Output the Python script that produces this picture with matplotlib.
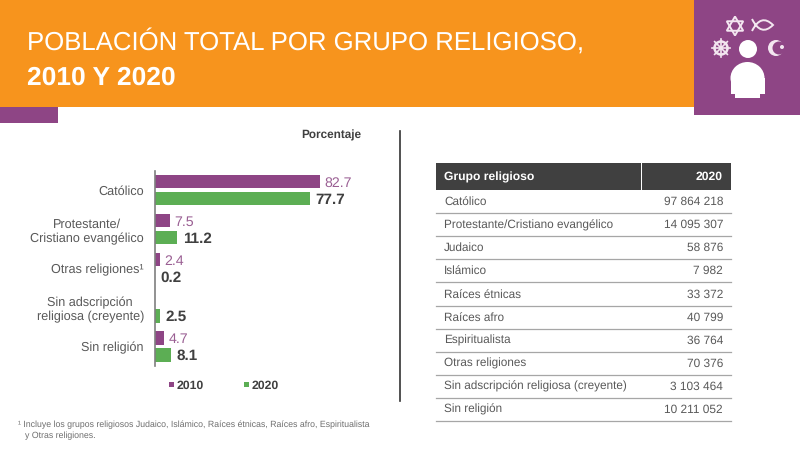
import numpy as np
import matplotlib
matplotlib.use('Agg')
import matplotlib.pyplot as plt
from matplotlib.patches import Rectangle, Circle, Polygon, Ellipse, PathPatch
from matplotlib.path import Path

plt.rcParams['font.family'] = ['Liberation Sans', 'DejaVu Sans']
plt.rcParams['text.hinting'] = 'no_hinting'

### --- data --- ###
categories = ['Católico', 'Protestante/\nCristiano evangélico', 'Otras religiones¹',
              'Sin adscripción\nreligiosa (creyente)', 'Sin religión']
vals_2010 = [82.7, 7.5, 2.4, None, 4.7]
vals_2020 = [77.7, 11.2, 0.2, 2.5, 8.1]

table_groups = ['Católico', 'Protestante/Cristiano evangélico', 'Judaico', 'Islámico',
                'Raíces étnicas', 'Raíces afro', 'Espiritualista', 'Otras religiones',
                'Sin adscripción religiosa (creyente)', 'Sin religión']
table_2020 = ['97 864 218', '14 095 307', '58 876', '7 982', '33 372',
              '40 799', '36 764', '70 376', '3 103 464', '10 211 052']

ORANGE = '#f7941d'
PURPLE = '#8e4585'
GREEN = '#5cae54'
DARK = '#404040'
GREY = '#595959'
W, H = 800, 451

fig = plt.figure(figsize=(8, 4.51), dpi=100, facecolor='white')

### --- page furniture, in pixel coords --- ###
bg = fig.add_axes([0, 0, 1, 1])
bg.set_xlim(0, W)
bg.set_ylim(H, 0)
bg.axis('off')

bg.add_patch(Rectangle((0, 0), 694, 107, fc=ORANGE, ec='none'))
bg.add_patch(Rectangle((0, 107), 58, 16, fc=PURPLE, ec='none'))
bg.add_patch(Rectangle((694, 0), 106, 115, fc=PURPLE, ec='none'))
bg.text(27, 50, 'POBLACIÓN TOTAL POR GRUPO RELIGIOSO,', color='white', fontsize=18.5, va='baseline')
bg.text(27, 85, '2010 Y 2020', color='white', fontsize=19, fontweight='bold', va='baseline')

# icon
ICON = '#f3e6f0'
bg.add_patch(Circle((748, 49), 9, fc='white', ec='none'))
bg.add_patch(Ellipse((747.5, 78), 34, 32, fc='white', ec='none'))
bg.add_patch(Rectangle((730.5, 78), 34, 16, fc='white', ec='none'))
bg.add_patch(Rectangle((735, 92), 25, 6, fc='white', ec='none'))
# star
for a0 in (90, -90):
    ang = np.radians([a0, a0 + 120, a0 + 240])
    bg.add_patch(Polygon(np.c_[735 + 9.5 * np.cos(ang), 26 - 9.5 * np.sin(ang)], fc='none', ec=ICON, lw=1.4))
# fish
fish = Path([(752, 31), (761, 13), (773, 25), (761, 37), (752, 19)],
            [Path.MOVETO, Path.CURVE3, Path.CURVE3, Path.CURVE3, Path.CURVE3])
bg.add_patch(PathPatch(fish, fc='none', ec=ICON, lw=1.4))
# wheel
bg.add_patch(Circle((721, 48), 6.5, fc='none', ec=ICON, lw=1.8))
bg.add_patch(Circle((721, 48), 2, fc=ICON, ec='none'))
for t in np.radians(np.arange(0, 360, 45)):
    bg.plot([721 + 2 * np.cos(t), 721 + 9 * np.cos(t)], [48 + 2 * np.sin(t), 48 + 9 * np.sin(t)], color=ICON, lw=1.2)
# crescent
bg.add_patch(Circle((776, 48), 8, fc=ICON, ec='none'))
bg.add_patch(Circle((779, 48), 6.5, fc=PURPLE, ec='none'))
bg.add_patch(Circle((782, 47), 2, fc=ICON, ec='none'))

bg.text(361, 135, 'Porcentaje', color=DARK, fontsize=8.5, fontweight='bold', ha='right', va='center')
bg.plot([400, 400], [131, 401], color='#333333', lw=1.2)

# legend
bg.add_patch(Rectangle((169, 382), 5, 5, fc=PURPLE, ec='none'))
bg.text(177, 384.5, '2010', color=DARK, fontsize=8.8, fontweight='bold', va='center_baseline')
bg.add_patch(Rectangle((244, 382), 5, 5, fc=GREEN, ec='none'))
bg.text(252, 384.5, '2020', color=DARK, fontsize=8.8, fontweight='bold', va='center_baseline')

# footnote
bg.text(18, 425, '¹ Incluye los grupos religiosos Judaico, Islámico, Raíces étnicas, Raíces afro, Espiritualista',
        color='#6e6e6e', fontsize=6.3, va='center')
bg.text(25, 436, 'y Otras religiones.', color='#6e6e6e', fontsize=6.3, va='center')

### --- table --- ###
bg.add_patch(Rectangle((436, 163), 204.5, 27, fc=DARK, ec='none'))
bg.add_patch(Rectangle((642, 163), 89, 27, fc=DARK, ec='none'))
bg.text(444, 180, 'Grupo religioso', color='white', fontsize=8.7, fontweight='bold', va='baseline')
bg.text(723, 180, '2020', color='white', fontsize=8.7, fontweight='bold', ha='right', va='baseline')
row_h = 23.1
for i, (g, v) in enumerate(zip(table_groups, table_2020)):
    yc = 201.5 + i * row_h
    bg.text(444, yc + 3.5, g, color=GREY, fontsize=8.5, va='baseline')
    bg.text(723, yc + 3.5, v, color=GREY, fontsize=8.6, ha='right', va='baseline')
    bg.plot([436, 731], [yc + 11.6, yc + 11.6], color='#a6a6a6', lw=0.9)

### --- bars --- ###
left, right, top, bottom = 155, 395, 171, 366
ax = fig.add_axes([left / W, 1 - bottom / H, (right - left) / W, (bottom - top) / H])
ax.patch.set_alpha(0)
step = 39.1
ax.set_ylim((bottom - 190) / step, (top - 190) / step)
ax.set_xlim(0, (right - left) / 2.0)
pos = np.arange(len(categories))
off = 8.5 / step
bar_h = 13.5 / step
for i in pos:
    if vals_2010[i] is not None:
        ax.barh(i - off, vals_2010[i], height=bar_h, color=PURPLE)
        ax.text(vals_2010[i] + 2.2, i - off, f'{vals_2010[i]:.1f}', color='#9a5f93', fontsize=10.2, va='center_baseline')
    ax.barh(i + off, vals_2020[i], height=bar_h, color=GREEN)
    ax.text(vals_2020[i] + 2.6, i + off, f'{vals_2020[i]:.1f}', color=DARK, fontsize=11, fontweight='bold', va='center_baseline')

for s in ('top', 'right', 'bottom'):
    ax.spines[s].set_visible(False)
ax.spines['left'].set_color('#7f7f7f')
ax.spines['left'].set_linewidth(1.2)
ax.set_xticks([])
ax.set_yticks(pos)
ax.set_yticklabels(categories, color=GREY, fontsize=9.1, ha='right', linespacing=1.25, multialignment='center')
ax.tick_params(axis='y', length=0, pad=8)

fig.savefig('out.png', dpi=100, facecolor='white')
